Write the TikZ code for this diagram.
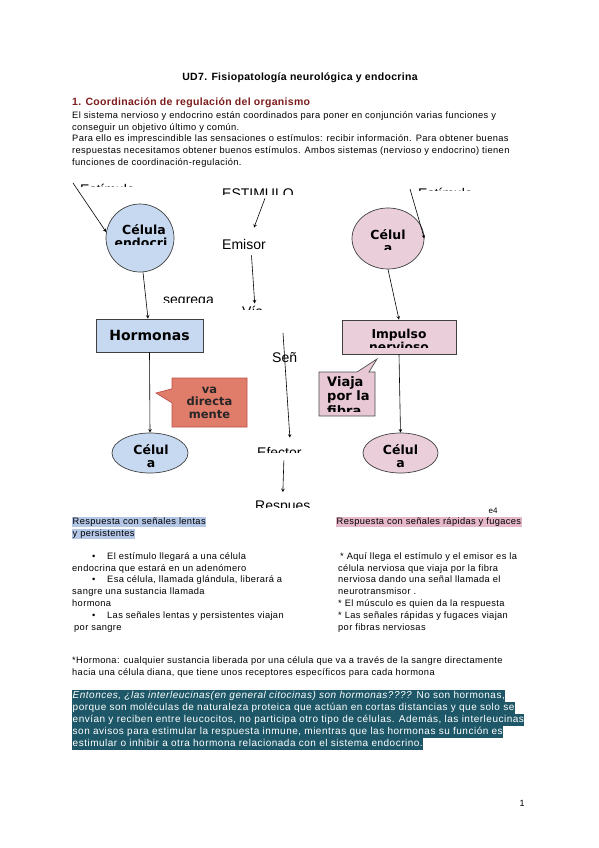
\documentclass[tikz,border=0pt]{standalone}
\usepackage{fontspec}
\setmainfont{Liberation Sans}
\newfontfamily\cuerpofont{Liberation Sans}[LetterSpace=4]
\newfontfamily\tealfont{Liberation Sans}[LetterSpace=5]
\newfontfamily\titfont{Liberation Sans}[LetterSpace=3]
\newfontfamily\dejavu{DejaVu Sans}
\usepackage{xcolor}
\usepackage{tikz}
\usetikzlibrary{shapes,arrows,positioning,calc,shapes.callouts}
\definecolor{lightblue}{RGB}{198,217,241}
\definecolor{lightpink}{RGB}{234,207,219}
\definecolor{calloutred}{RGB}{224,124,106}
\definecolor{calloutredborder}{RGB}{190,80,72}
\definecolor{calloutpink}{RGB}{232,200,212}
\definecolor{hlblue}{RGB}{180,199,231}
\definecolor{hlpink}{RGB}{230,184,202}
\definecolor{darkteal}{RGB}{30,88,104}
\definecolor{headred}{RGB}{125,28,28}

\begin{document}
\begin{tikzpicture}[
    x=1pt, y=-1pt,
    txt/.style={inner sep=0pt, anchor=west, font=\cuerpofont\fontsize{9.3}{11}\selectfont, text height=7pt, text depth=2pt},
    hl/.style={txt, inner xsep=0.5pt, inner ysep=0.8pt},
    tealline/.style={txt, font=\tealfont\fontsize{10}{12}\selectfont, fill=darkteal, text=white, text height=8.5pt, text depth=3.5pt, inner xsep=0.5pt},
    lbl/.style={inner sep=0pt, anchor=base west, font=\fontsize{14}{16}\selectfont},
    celula/.style={ellipse, draw=black!75, line width=0.7pt, inner sep=0pt},
    caja/.style={rectangle, draw=black!75, line width=0.7pt, inner sep=0pt},
    celtxt/.style={inner sep=0pt, anchor=base, font=\dejavu\bfseries\fontsize{12.5}{13}\selectfont},
    arrow/.style={->, >=stealth, line width=0.6pt}
]
\fill[white] (0,0) rectangle (599,848);
\useasboundingbox (0,0) rectangle (599,848);

% Cabecera
\node[font=\titfont\bfseries\fontsize{10.5}{12}\selectfont] (titulo) at (300,78) {UD7. Fisiopatología neurológica y endocrina};
\node[txt, font=\titfont\bfseries\fontsize{10.5}{12}\selectfont, text=headred] (apartado) at (72,103) {1. Coordinación de regulación del organismo};
\node[txt] (p1) at (72,116.5) {El sistema nervioso y endocrino están coordinados para poner en conjunción varias funciones y};
\node[txt] (p2) at (72,128) {conseguir un objetivo último y común.};
\node[txt] (p3) at (72,139.5) {Para ello es imprescindible las sensaciones o estímulos: recibir información. Para obtener buenas};
\node[txt] (p4) at (72,151) {respuestas necesitamos obtener buenos estímulos. Ambos sistemas (nervioso y endocrino) tienen};
\node[txt] (p5) at (72,162.5) {funciones de coordinación-regulación.};

% Sistema endocrino
\node[celula, fill=lightblue, minimum width=68, minimum height=68] (celEnd) at (140,238) {};
\begin{scope}
  \clip (100,200) rectangle (180,244);
  \node[celtxt] (celEndA) at (144,234) {Célula};
  \node[celtxt] (celEndB) at (141,247) {endocri};
\end{scope}
\begin{scope}
  \clip (60,170) rectangle (160,186.6);
  \node[lbl] (estL) at (80,194) {Estímulo};
\end{scope}
\coordinate (estLtail) at (73,183);
\node[caja, fill=lightblue, minimum width=107, minimum height=33,
      font=\dejavu\bfseries\fontsize{14}{16}\selectfont] (horm) at (149.5,335.5) {Hormonas};
\node[rectangle callout, draw=calloutredborder, fill=calloutred, line width=0.7pt,
      minimum width=75, minimum height=49, callout absolute pointer={(156,393)},
      callout pointer width=14pt, align=center, inner sep=0pt,
      font=\dejavu\bfseries\fontsize{11.5}{12.5}\selectfont, text=black!85] (notaHorm) at (209.5,402.5) {va\\directa\\mente};
\node[celula, fill=lightblue, minimum width=76, minimum height=40] (celB) at (150,453) {};
\node[celtxt] (celBA) at (151,454) {Célul};
\node[celtxt] (celBB) at (151,467) {a};
\draw[arrow] (estLtail) -- (celEnd.170);
\draw[arrow] ([xshift=3pt]celEnd.south) -- ([xshift=-1.5pt]horm.north);
\draw[arrow] (horm.south) -- (celB.north);

% Centro: estimulo-respuesta
\begin{scope}
  \clip (215,180) rectangle (300,194);
  \node[lbl] (estC) at (222,198) {ESTIMULO};
\end{scope}
\node[lbl] (emisor) at (222,249) {Emisor};
\begin{scope}
  \clip (155,290) rectangle (225,302);
  \node[lbl] (segrega) at (163,304.5) {segrega};
\end{scope}
\begin{scope}
  \clip (235,300) rectangle (290,309.5);
  \node[lbl] (via) at (242,316) {Vía};
\end{scope}
\begin{scope}
  \clip (265,340) rectangle (296,366);
  \node[lbl] (senal) at (272,362) {Señ};
\end{scope}
\coordinate (senTop) at (283,333);
\begin{scope}
  \clip (250,440) rectangle (310,452.5);
  \node[lbl] (efector) at (257,457) {Efector};
\end{scope}
\begin{scope}
  \clip (250,495) rectangle (315,507);
  \node[lbl] (respues) at (255,510) {Respues};
\end{scope}
\node[inner sep=0pt, font=\fontsize{8}{9}\selectfont] (e4) at (493,511) {e4};
\draw[arrow] ([xshift=7pt]estC.south) -- ([xshift=10pt,yshift=11pt]emisor.north);
\draw[arrow] ([xshift=7.5pt,yshift=-6pt]emisor.south) -- ([xshift=2pt,yshift=2pt]via.north);
\draw[arrow] (senTop) -- ([xshift=10.5pt,yshift=9pt]efector.north);
\draw[arrow] ([xshift=4.5pt,yshift=-3pt]efector.south) -- ([yshift=8pt]respues.north);

% Sistema nervioso
\node[celula, fill=lightpink, minimum width=72, minimum height=61] (celNerv) at (388,238.5) {};
\begin{scope}
  \clip (350,210) rectangle (425,249);
  \node[celtxt] (celNervA) at (388,239) {Célul};
  \node[celtxt] (celNervB) at (388,252) {a};
\end{scope}
\begin{scope}
  \clip (400,170) rectangle (490,190.6);
  \node[lbl] (estR) at (418,198) {Estímulo};
\end{scope}
\coordinate (estRtail) at (410,189);
\node[caja, fill=lightpink, minimum width=114, minimum height=34] (impulso) at (399,337) {};
\begin{scope}
  \clip (343,321) rectangle (455,347.5);
  \node[celtxt, font=\dejavu\bfseries\fontsize{12.3}{13}\selectfont] (impA) at (399,338) {Impulso};
  \node[celtxt, font=\dejavu\bfseries\fontsize{12.3}{13}\selectfont] (impB) at (399,351) {nervioso};
\end{scope}
\node[rectangle callout, draw=black!70, fill=calloutpink, line width=0.7pt,
      minimum width=56, minimum height=44, callout absolute pointer={(377,359)},
      callout pointer width=12pt, inner sep=0pt] (notaNerv) at (347,394) {};
\begin{scope}
  \clip (320,373) rectangle (374,411);
  \node[celtxt, anchor=base west, font=\dejavu\bfseries\fontsize{13}{13}\selectfont] (notaNervA) at (327,386) {Viaja};
  \node[celtxt, anchor=base west, font=\dejavu\bfseries\fontsize{13}{13}\selectfont] (notaNervB) at (327,400) {por la};
  \node[celtxt, anchor=base west, font=\dejavu\bfseries\fontsize{13}{13}\selectfont] (notaNervC) at (327,415) {fibra};
\end{scope}
\node[celula, fill=lightpink, minimum width=75, minimum height=40] (celC) at (400.5,453) {};
\node[celtxt] (celCA) at (400.5,454) {Célul};
\node[celtxt] (celCB) at (400.5,467) {a};
\draw[arrow] (estRtail) -- (celNerv.east);
\draw[arrow] (celNerv.south) -- (impulso.north);
\draw[arrow] (impulso.south) -- (celC.north);

% Columnas de respuesta
\node[hl, fill=hlblue] (lentas1) at (72,522) {Respuesta con señales lentas};
\node[hl, fill=hlblue] (lentas2) at (72,534) {y persistentes};
\node[hl, fill=hlpink] (rapidas) at (336,522) {Respuesta con señales rápidas y fugaces};

\node[txt] (b1) at (92,557) {•};
\node[txt] (l1) at (107,557) {El estímulo llegará a una célula};
\node[txt] (l2) at (72,568.5) {endocrina que estará en un adenómero};
\node[txt] (b2) at (92,580) {•};
\node[txt] (l3) at (107,580) {Esa célula, llamada glándula, liberará a};
\node[txt] (l4) at (72,592) {sangre una sustancia llamada};
\node[txt] (l5) at (72,604) {hormona};
\node[txt] (b3) at (92,616) {•};
\node[txt] (l6) at (107,616) {Las señales lentas y persistentes viajan};
\node[txt] (l7) at (74,628) {por sangre};

\node[txt] (r1) at (340,557) {* Aquí llega el estímulo y el emisor es la};
\node[txt] (r2) at (338,568.5) {célula nerviosa que viaja por la fibra};
\node[txt] (r3) at (338,580) {nerviosa dando una señal llamada el};
\node[txt] (r4) at (338,592) {neurotransmisor .};
\node[txt] (r5) at (338,604) {* El músculo es quien da la respuesta};
\node[txt] (r6) at (338,616) {* Las señales rápidas y fugaces viajan};
\node[txt] (r7) at (338,628) {por fibras nerviosas};

% Nota y pregunta final
\node[txt] (n1) at (72,661) {*Hormona: cualquier sustancia liberada por una célula que va a través de la sangre directamente};
\node[txt] (n2) at (72,673) {hacia una célula diana, que tiene unos receptores específicos para cada hormona};

\node[tealline] (q1) at (72,696) {\textit{Entonces, ¿las interleucinas(en general citocinas) son hormonas????} No son hormonas,};
\node[tealline] (q2) at (72,708) {porque son moléculas de naturaleza proteica que actúan en cortas distancias y que solo se};
\node[tealline] (q3) at (72,720) {envían y reciben entre leucocitos, no participa otro tipo de células. Además, las interleucinas};
\node[tealline] (q4) at (72,732) {son avisos para estimular la respuesta inmune, mientras que las hormonas su función es};
\node[tealline] (q5) at (72,744) {estimular o inhibir a otra hormona relacionada con el sistema endocrino.};

\node[inner sep=0pt, font=\fontsize{9}{11}\selectfont] (pagina) at (522,803) {1};
\end{tikzpicture}
\end{document}
